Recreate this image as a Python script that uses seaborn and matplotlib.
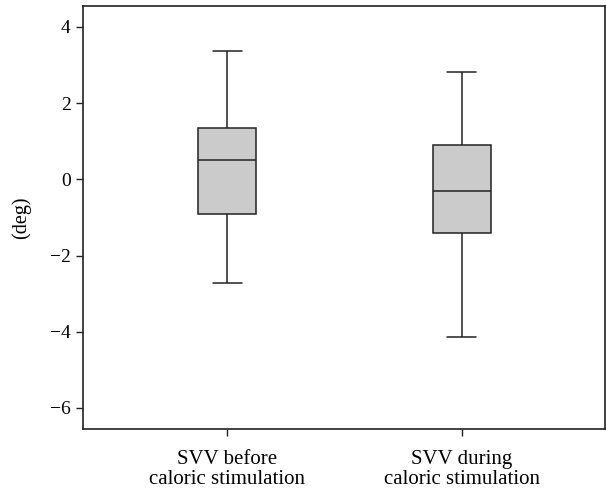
import matplotlib
matplotlib.use("Agg")
import matplotlib.pyplot as plt
import numpy as np
import pandas as pd
import seaborn as sns

# Five-number summaries: min, Q1, median, Q3, max
groups = ["SVV before\ncaloric stimulation", "SVV during\ncaloric stimulation"]
svv_before = [-2.71, -0.90, 0.51, 1.36, 3.37]
svv_during = [-4.15, -1.42, -0.30, 0.90, 2.82]
y_ticks = [-6, -4, -2, 0, 2, 4]

df = pd.DataFrame({
    "group": [groups[0]] * len(svv_before) + [groups[1]] * len(svv_during),
    "deg": svv_before + svv_during,
})

sns.set_style("ticks")
plt.rcParams["font.family"] = ["Liberation Serif", "DejaVu Serif"]
plt.rcParams["text.color"] = "black"
plt.rcParams["axes.labelcolor"] = "black"
plt.rcParams["xtick.labelcolor"] = "black"
plt.rcParams["ytick.labelcolor"] = "black"

fig = plt.figure(figsize=(6.06, 4.91), dpi=100)
ax = fig.add_axes([0.137, 0.1257, 0.861, 0.862])

line_kw = dict(color="#222222", linewidth=1.1)
sns.boxplot(data=df, x="group", y="deg", ax=ax, whis=(0, 100), width=0.247,
            color="#cbcbcb", linecolor="#222222", linewidth=1.1,
            boxprops=dict(facecolor="#cbcbcb", edgecolor="#222222"),
            medianprops=line_kw, whiskerprops=line_kw, capprops=line_kw,
            showfliers=False, saturation=1)

ax.set_xlim(-0.614, 1.61)
ax.set_ylim(-6.56, 4.55)
ax.set_yticks(y_ticks)
ax.set_yticklabels([str(t).replace("-", "\u2212") for t in y_ticks])
ax.set_xlabel("")
ax.set_ylabel("(deg)", fontsize=14.5, labelpad=13)
ax.tick_params(axis="both", direction="out", length=5, width=1.0,
               color="#222222", labelsize=14, pad=4)
ax.tick_params(axis="x", labelsize=15, pad=10)
for lab in ax.get_xticklabels():
    lab.set_linespacing(1.04)
for s in ax.spines.values():
    s.set_visible(True)
    s.set_color("#222222")
    s.set_linewidth(1.2)

fig.savefig("out.png", dpi=100)
